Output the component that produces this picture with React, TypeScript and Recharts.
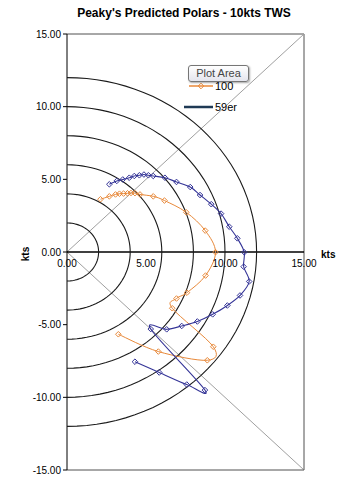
import React from 'react';
import { ScatterChart, Scatter, XAxis, YAxis, ReferenceLine } from 'recharts';

// ---- data ----
const series100X = [2.12, 2.68, 3.07, 3.32, 3.58, 3.83, 4.05, 4.30, 4.62, 5.46, 6.17, 7.55, 8.75, 9.40, 8.77, 7.59, 6.93, 6.66, 9.26, 8.88, 5.78, 3.25];
const series100Y = [3.63, 3.83, 3.96, 4.01, 4.02, 4.04, 4.06, 4.05, 3.96, 3.83, 3.54, 2.73, 1.47, -0.01, -1.62, -2.80, -3.20, -3.87, -6.52, -7.45, -6.85, -5.66];

const series59X = [2.68, 3.15, 3.53, 3.94, 4.26, 4.58, 4.87, 5.15, 5.46, 6.20, 6.93, 7.80, 8.42, 9.13, 9.75, 10.27, 10.78, 11.22, 11.18, 11.53, 10.95, 10.15, 9.22, 8.25, 7.26, 6.31, 5.30, 8.73, 7.58, 5.84, 4.30];
const series59Y = [4.66, 4.89, 4.99, 5.11, 5.23, 5.28, 5.33, 5.28, 5.23, 5.11, 4.82, 4.47, 3.92, 3.29, 2.64, 1.74, 0.94, -0.02, -1.01, -2.03, -2.99, -3.68, -4.29, -4.78, -5.09, -5.32, -5.30, -9.50, -9.12, -8.29, -7.55];

const circleRadii = [2, 4, 6, 8, 10, 12];
const xTicks = [0, 5, 10, 15];
const yTicks = [-15, -10, -5, 0, 5, 10, 15];
const seriesNames = ['100', '59er'];

// ---- layout ----
const W = 357;
const H = 490;
const M_TOP = 34;
const M_RIGHT = 53;
const Y_AXIS_W = 67;
const X_AXIS_H = 20;
const PLOT_H = H - M_TOP - X_AXIS_H;
const ZERO_Y = M_TOP + PLOT_H / 2;

const ORANGE = '#e8893a';
const NAVY = '#343497';

const zip = (xs: number[], ys: number[]) => xs.map((x, i) => ({ x, y: ys[i] }));
const data100 = zip(series100X, series100Y);
const data59 = zip(series59X, series59Y);

const arcs = circleRadii.map((r) => {
  const pts: { x: number; y: number }[] = [];
  for (let a = 90; a >= -90; a -= 3) {
    const t = (a * Math.PI) / 180;
    pts.push({ x: r * Math.cos(t), y: r * Math.sin(t) });
  }
  return pts;
});

// Excel-like smoothed line (Catmull-Rom style cubic Bezier)
const excelCurve: any = (context: any) => {
  let pts: number[][] = [];
  return {
    areaStart() {},
    areaEnd() {},
    lineStart() {
      pts = [];
    },
    point(x: number, y: number) {
      pts.push([+x, +y]);
    },
    lineEnd() {
      if (!pts.length) return;
      context.moveTo(pts[0][0], pts[0][1]);
      for (let i = 0; i < pts.length - 1; i++) {
        const p0 = pts[i - 1] || pts[i];
        const p1 = pts[i];
        const p2 = pts[i + 1];
        const p3 = pts[i + 2] || p2;
        const c1x = p1[0] + (p2[0] - p0[0]) / 6;
        const c1y = p1[1] + (p2[1] - p0[1]) / 6;
        const c2x = p2[0] - (p3[0] - p1[0]) / 6;
        const c2y = p2[1] - (p3[1] - p1[1]) / 6;
        context.bezierCurveTo(c1x, c1y, c2x, c2y, p2[0], p2[1]);
      }
    },
  };
};

const diamond = (color: string) => (props: any) => {
  const { cx, cy } = props;
  if (cx == null || cy == null) return <g />;
  const s = 2.8;
  return (
    <path
      d={`M${cx},${cy - s}L${cx + s},${cy}L${cx},${cy + s}L${cx - s},${cy}Z`}
      fill="none"
      stroke={color}
      strokeWidth={1}
    />
  );
};

const noShape = () => <g />;

const XTick = (props: any) => {
  const { x, payload } = props;
  return (
    <text x={x} y={ZERO_Y + 15} textAnchor="middle" fontSize={10} fill="#000" fontFamily="Liberation Sans, Arial, sans-serif">
      {Number(payload.value).toFixed(2)}
    </text>
  );
};

export default function App() {
  const font = 'Liberation Sans, Arial, sans-serif';
  return (
    <div style={{ position: 'absolute', left: 0, top: 0, width: W, height: H, background: '#fff', fontFamily: font }}>
      <ScatterChart width={W} height={H} margin={{ top: M_TOP, right: M_RIGHT, bottom: 0, left: 0 }}>
        <XAxis
          type="number"
          dataKey="x"
          domain={[0, 15]}
          ticks={xTicks}
          interval={0}
          height={X_AXIS_H}
          allowDataOverflow
          axisLine={{ stroke: '#505050' }}
          tickLine={false}
          tick={<XTick />}
        />
        <YAxis
          type="number"
          dataKey="y"
          domain={[-15, 15]}
          ticks={yTicks}
          interval={0}
          width={Y_AXIS_W}
          allowDataOverflow
          axisLine={{ stroke: '#000' }}
          tickLine={{ stroke: '#000' }}
          tickSize={4}
          tick={{ fontSize: 10, fill: '#000', fontFamily: font }}
          tickFormatter={(v: number) => v.toFixed(2)}
        />
        <ReferenceLine y={15} stroke="#505050" />
        <ReferenceLine x={15} stroke="#505050" />
        <ReferenceLine segment={[{ x: 0, y: 0 }, { x: 15, y: 15 }]} stroke="#a0a0a0" />
        <ReferenceLine segment={[{ x: 0, y: 0 }, { x: 15, y: -15 }]} stroke="#a0a0a0" />
        <ReferenceLine y={0} stroke="#000" strokeWidth={1.3} />
        {arcs.map((pts, i) => (
          <Scatter
            key={'arc' + i}
            data={pts}
            line={{ stroke: '#1a1a1a', strokeWidth: 1.1 }}
            lineType="joint"
            shape={noShape}
            isAnimationActive={false}
          />
        ))}
        <Scatter
          name={seriesNames[0]}
          data={data100}
          line={{ stroke: ORANGE, strokeWidth: 1 }}
          lineType="joint"
          lineJointType={excelCurve}
          shape={diamond(ORANGE)}
          isAnimationActive={false}
        />
        <Scatter
          name={seriesNames[1]}
          data={data59}
          line={{ stroke: NAVY, strokeWidth: 1.1 }}
          lineType="joint"
          lineJointType={excelCurve}
          shape={diamond(NAVY)}
          isAnimationActive={false}
        />
      </ScatterChart>

      {/* overlay: title, axis titles, legend */}
      <svg width={W} height={H} style={{ position: 'absolute', left: 0, top: 0, pointerEvents: 'none' }}>
        <text x={184} y={17} textAnchor="middle" fontSize={12} fontWeight="bold" fill="#000" fontFamily={font}>
          Peaky's Predicted Polars - 10kts TWS
        </text>
        <text x={321} y={258} fontSize={10} fontWeight="bold" fill="#000" fontFamily={font}>
          kts
        </text>
        <text x={29} y={254} fontSize={10} fontWeight="bold" fill="#000" fontFamily={font} textAnchor="middle" transform="rotate(-90 29 254)">
          kts
        </text>
        <line x1={189} y1={86} x2={213} y2={86} stroke={ORANGE} strokeWidth={1.5} />
        <path d="M201,83.2L203.8,86L201,88.8L198.2,86Z" fill="none" stroke={ORANGE} />
        <text x={215} y={90} fontSize={11} fill="#000" fontFamily={font}>
          {seriesNames[0]}
        </text>
        <line x1={184} y1={107} x2={213} y2={107} stroke="#1f3a55" strokeWidth={2.5} />
        <text x={215} y={111} fontSize={11} fill="#000" fontFamily={font}>
          {seriesNames[1]}
        </text>
      </svg>
      <div
        style={{
          position: 'absolute',
          left: 188,
          top: 65,
          width: 61,
          height: 17,
          boxSizing: 'border-box',
          border: '1px solid #767676',
          borderRadius: 3,
          background: 'linear-gradient(#ffffff, #e4e5ee)',
          boxShadow: '1px 1px 2px rgba(0,0,0,0.35)',
          fontSize: 11,
          lineHeight: '15px',
          color: '#444',
          textAlign: 'center',
          fontFamily: font,
        }}
      >
        Plot Area
      </div>
    </div>
  );
}
